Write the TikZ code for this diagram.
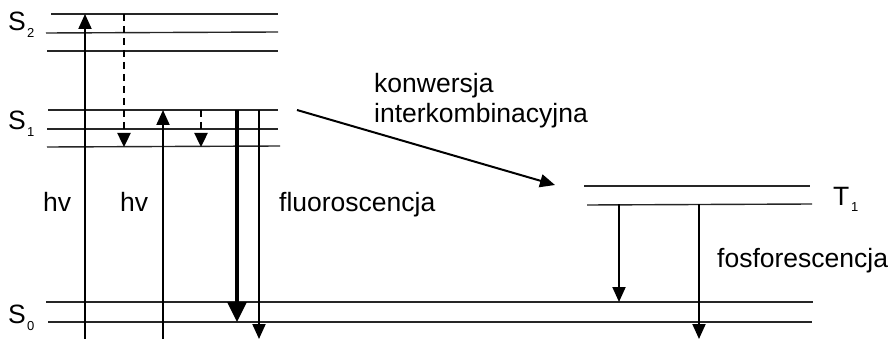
\documentclass[tikz,border=0pt]{standalone}
\usepackage{fontspec}
\setmainfont{Liberation Sans}
\usetikzlibrary{arrows.meta}
\tikzset{
  level/.style={line width=1.4pt, draw=black!85},
  arr/.style={line width=2pt, -{Triangle[width=13pt,length=15pt]}},
  thickarr/.style={line width=3.4pt, -{Triangle[width=19pt,length=20pt]}},
  dasharr/.style={line width=2.4pt, dash pattern=on 7pt off 5pt, -{Triangle[width=13pt,length=14pt]}},
  lbl/.style={inner sep=0pt, anchor=base west, font=\fontsize{26.5}{30}\selectfont},
  sub/.style={inner sep=0pt, anchor=base west, font=\fontsize{13}{15}\selectfont}
}
\begin{document}
\begin{tikzpicture}[x=1pt,y=-1pt]
\useasboundingbox (0,0) rectangle (890,339);
% S2 levels
\draw[level] (51,14) -- (278,14);
\draw[level] (46,33) -- (278,32);
\draw[level] (47,51) -- (278,51);
% S1 levels
\draw[level] (48,110) -- (278,110);
\draw[level] (47,129) -- (278,129);
\draw[level] (47,147) -- (280,146);
% S0 levels
\draw[level] (46,302) -- (813,302);
\draw[level] (48,322) -- (812,322);
% T1 levels
\draw[level] (584,186) -- (810,186);
\draw[level] (587,205) -- (812,204);
% coordinates
\coordinate (a1s) at (85,345); \coordinate (a1e) at (85,14);
\coordinate (d1s) at (124,14); \coordinate (d1e) at (124,147);
\coordinate (a2s) at (163,345); \coordinate (a2e) at (163,110);
\coordinate (d2s) at (201,110); \coordinate (d2e) at (201,147);
\coordinate (f1s) at (237,110); \coordinate (f1e) at (237,322);
\coordinate (f2s) at (259,110); \coordinate (f2e) at (259,339);
\coordinate (p1s) at (619,204); \coordinate (p1e) at (619,302);
\coordinate (p2s) at (699,204); \coordinate (p2e) at (699,339);
\coordinate (icS) at (297,110); \coordinate (icE) at (555,185);
% arrows
\draw[arr] (a1s) -- (a1e);
\draw[dasharr] (d1s) -- (d1e);
\draw[arr] (a2s) -- (a2e);
\draw[dasharr] (d2s) -- (d2e);
\draw[thickarr] (f1s) -- (f1e);
\draw[arr] (f2s) -- (f2e);
\draw[arr] (p1s) -- (p1e);
\draw[arr] (p2s) -- (p2e);
\draw[arr] (icS) -- (icE);
% labels
\node[lbl] (S2) at (8,31) {S};
\node[sub] (S2i) at (27,38) {2};
\node[lbl] (S1) at (8,130) {S};
\node[sub] (S1i) at (27,137) {1};
\node[lbl] (S0) at (8,323) {S};
\node[sub] (S0i) at (27,330) {0};
\node[lbl] (T1) at (833,205) {T};
\node[sub] (T1i) at (851,211) {1};
\node[lbl] (hv1) at (43,211) {hv};
\node[lbl] (hv2) at (120,211) {hv};
\node[lbl] (fl) at (279,211) {fluoroscencja};
\node[lbl] (kw) at (374,93) {konwersja};
\node[lbl] (ik) at (374,123) {interkombinacyjna};
\node[lbl] (fo) at (717,267) {fosforescencja};
\end{tikzpicture}
\end{document}
